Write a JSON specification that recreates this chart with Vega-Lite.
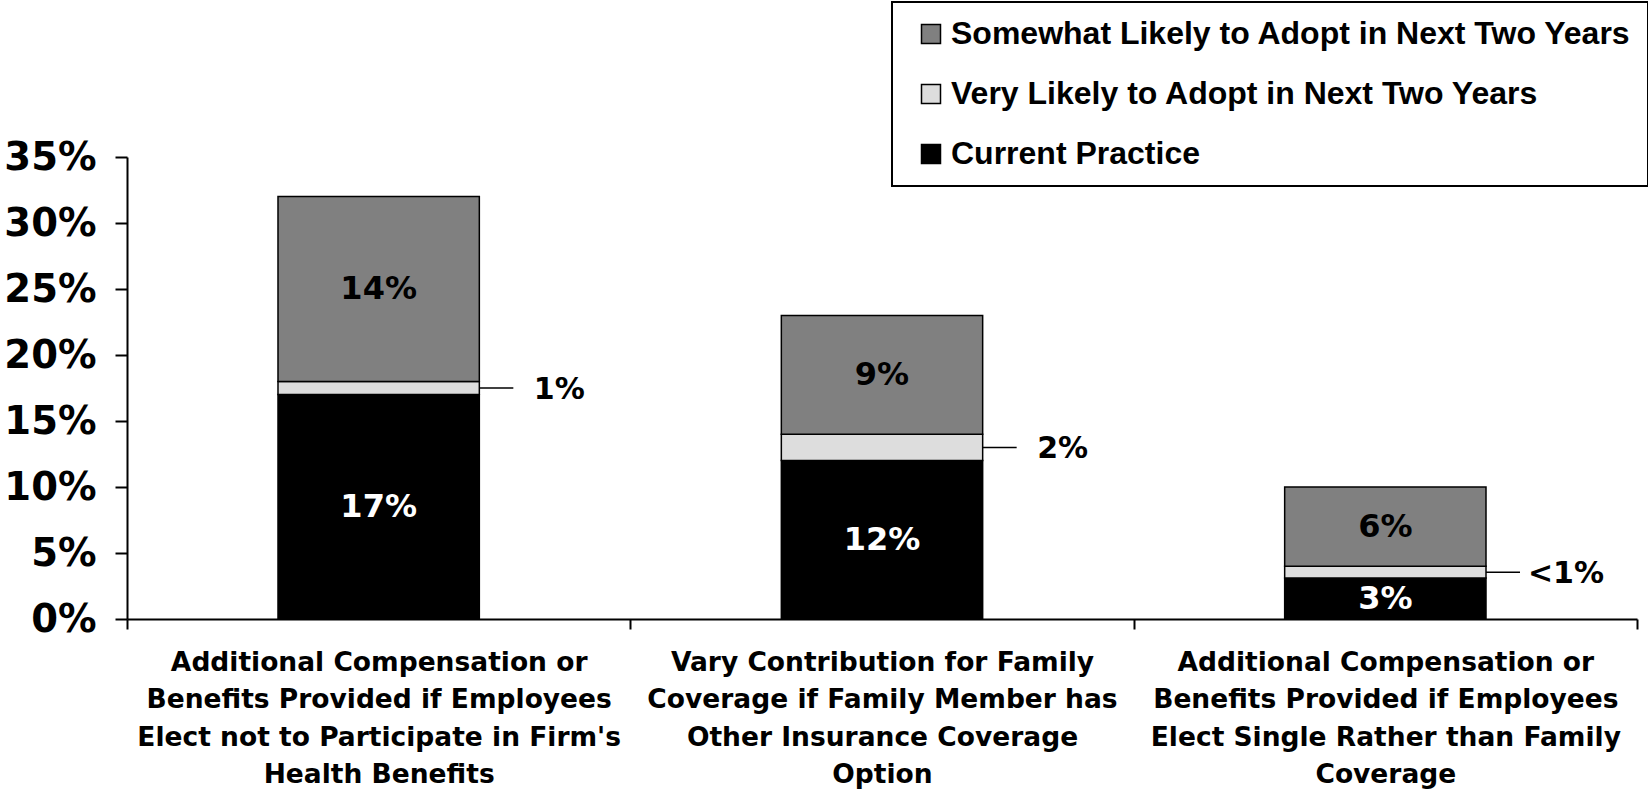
{
  "$schema": "https://vega.github.io/schema/vega-lite/v6.json",
  "width": 1510,
  "height": 462,
  "autosize": {"type": "none"},
  "padding": {"left": 127, "top": 157, "right": 11, "bottom": 177},
  "background": "white",
  "config": {
    "view": {"stroke": null},
    "axis": {"grid": false},
    "legend": {"strokeWidth": 2}
  },
  "data": {
    "values": [
      {"cat": "Additional Compensation or|Benefits Provided if Employees|Elect not to Participate in Firm's|Health Benefits", "series": "Current Practice", "rank": 1, "value": 17, "label": "17%"},
      {"cat": "Additional Compensation or|Benefits Provided if Employees|Elect not to Participate in Firm's|Health Benefits", "series": "Very Likely to Adopt in Next Two Years", "rank": 2, "value": 1, "label": "1%"},
      {"cat": "Additional Compensation or|Benefits Provided if Employees|Elect not to Participate in Firm's|Health Benefits", "series": "Somewhat Likely to Adopt in Next Two Years", "rank": 3, "value": 14, "label": "14%"},
      {"cat": "Vary Contribution for Family|Coverage if Family Member has|Other Insurance Coverage|Option", "series": "Current Practice", "rank": 1, "value": 12, "label": "12%"},
      {"cat": "Vary Contribution for Family|Coverage if Family Member has|Other Insurance Coverage|Option", "series": "Very Likely to Adopt in Next Two Years", "rank": 2, "value": 2, "label": "2%"},
      {"cat": "Vary Contribution for Family|Coverage if Family Member has|Other Insurance Coverage|Option", "series": "Somewhat Likely to Adopt in Next Two Years", "rank": 3, "value": 9, "label": "9%"},
      {"cat": "Additional Compensation or|Benefits Provided if Employees|Elect Single Rather than Family|Coverage", "series": "Current Practice", "rank": 1, "value": 3.1, "label": "3%"},
      {"cat": "Additional Compensation or|Benefits Provided if Employees|Elect Single Rather than Family|Coverage", "series": "Very Likely to Adopt in Next Two Years", "rank": 2, "value": 0.9, "label": "<1%"},
      {"cat": "Additional Compensation or|Benefits Provided if Employees|Elect Single Rather than Family|Coverage", "series": "Somewhat Likely to Adopt in Next Two Years", "rank": 3, "value": 6, "label": "6%"}
    ]
  },
  "encoding": {
    "x": {
      "field": "cat",
      "type": "nominal",
      "sort": null,
      "title": null,
      "scale": {"paddingInner": 0, "paddingOuter": 0},
      "axis": {
        "labelAngle": 0,
        "domainColor": "black",
        "domainWidth": 2,
        "tickColor": "black",
        "tickWidth": 2,
        "tickSize": 10,
        "tickBand": "extent",
        "labelFont": "DejaVu Sans",
        "labelFontWeight": "bold",
        "labelFontSize": 26.5,
        "labelColor": "black",
        "labelLineHeight": 37.5,
        "labelPadding": 20,
        "labelLimit": 0,
        "labelExpr": "split(datum.label, '|')"
      }
    }
  },
  "layer": [
    {
      "mark": {"type": "bar", "stroke": "black", "strokeWidth": 1.5, "width": {"band": 0.4}},
      "encoding": {
        "y": {
          "field": "value",
          "type": "quantitative",
          "stack": "zero",
          "title": null,
          "scale": {"domain": [0, 35], "nice": false},
          "axis": {
            "values": [0, 5, 10, 15, 20, 25, 30, 35],
            "labelExpr": "datum.value + '%'",
            "labelFont": "DejaVu Sans",
            "labelFontWeight": "bold",
            "labelFontSize": 38.5,
            "labelColor": "black",
            "domainColor": "black",
            "domainWidth": 2,
            "tickColor": "black",
            "tickWidth": 2,
            "tickSize": 12,
            "labelPadding": 19
          }
        },
        "color": {
          "field": "series",
          "type": "nominal",
          "scale": {
            "domain": ["Somewhat Likely to Adopt in Next Two Years", "Very Likely to Adopt in Next Two Years", "Current Practice"],
            "range": ["#808080", "#dddddd", "#000000"]
          },
          "legend": {
            "title": null,
            "orient": "none",
            "legendX": 765,
            "legendY": -155,
            "direction": "vertical",
            "symbolType": "square",
            "symbolSize": 361,
            "symbolStrokeColor": "black",
            "symbolStrokeWidth": 1.5,
            "symbolOffset": 7,
            "labelFont": "Liberation Sans",
            "labelFontWeight": "bold",
            "labelFontSize": 32,
            "labelColor": "black",
            "labelOffset": 4,
            "labelLimit": 0,
            "rowPadding": 28,
            "padding": 16,
            "strokeColor": "black",
            "fillColor": "white"
          }
        },
        "order": {"field": "rank", "type": "quantitative"}
      }
    },
    {
      "mark": {"type": "text", "font": "DejaVu Sans", "fontWeight": "bold", "fontSize": 32, "baseline": "middle", "align": "center"},
      "encoding": {
        "y": {"field": "value", "type": "quantitative", "stack": "zero", "bandPosition": 0.5},
        "detail": {"field": "series"},
        "order": {"field": "rank", "type": "quantitative"},
        "text": {"field": "label", "condition": {"test": "datum.rank === 2", "value": ""}},
        "color": {"condition": {"test": "datum.rank === 1", "value": "white"}, "value": "black"}
      }
    },
    {
      "mark": {"type": "rule", "stroke": "black", "strokeWidth": 1.5, "x2Offset": 34},
      "encoding": {
        "x": {"field": "cat", "type": "nominal", "sort": null, "title": null, "bandPosition": 0.7},
        "x2": {"field": "cat", "bandPosition": 0.7},
        "y": {"field": "value", "type": "quantitative", "stack": "zero", "bandPosition": 0.5},
        "detail": {"field": "series"},
        "order": {"field": "rank", "type": "quantitative"},
        "strokeOpacity": {"condition": {"test": "datum.rank === 2", "value": 1}, "value": 0}
      }
    },
    {
      "mark": {"type": "text", "font": "DejaVu Sans", "fontWeight": "bold", "fontSize": 30, "baseline": "middle", "align": "center", "dx": 80, "dy": 2, "color": "black"},
      "encoding": {
        "x": {"field": "cat", "type": "nominal", "sort": null, "title": null, "bandPosition": 0.7},
        "y": {"field": "value", "type": "quantitative", "stack": "zero", "bandPosition": 0.5},
        "detail": {"field": "series"},
        "order": {"field": "rank", "type": "quantitative"},
        "text": {"field": "label", "condition": {"test": "datum.rank !== 2", "value": ""}}
      }
    }
  ]
}
